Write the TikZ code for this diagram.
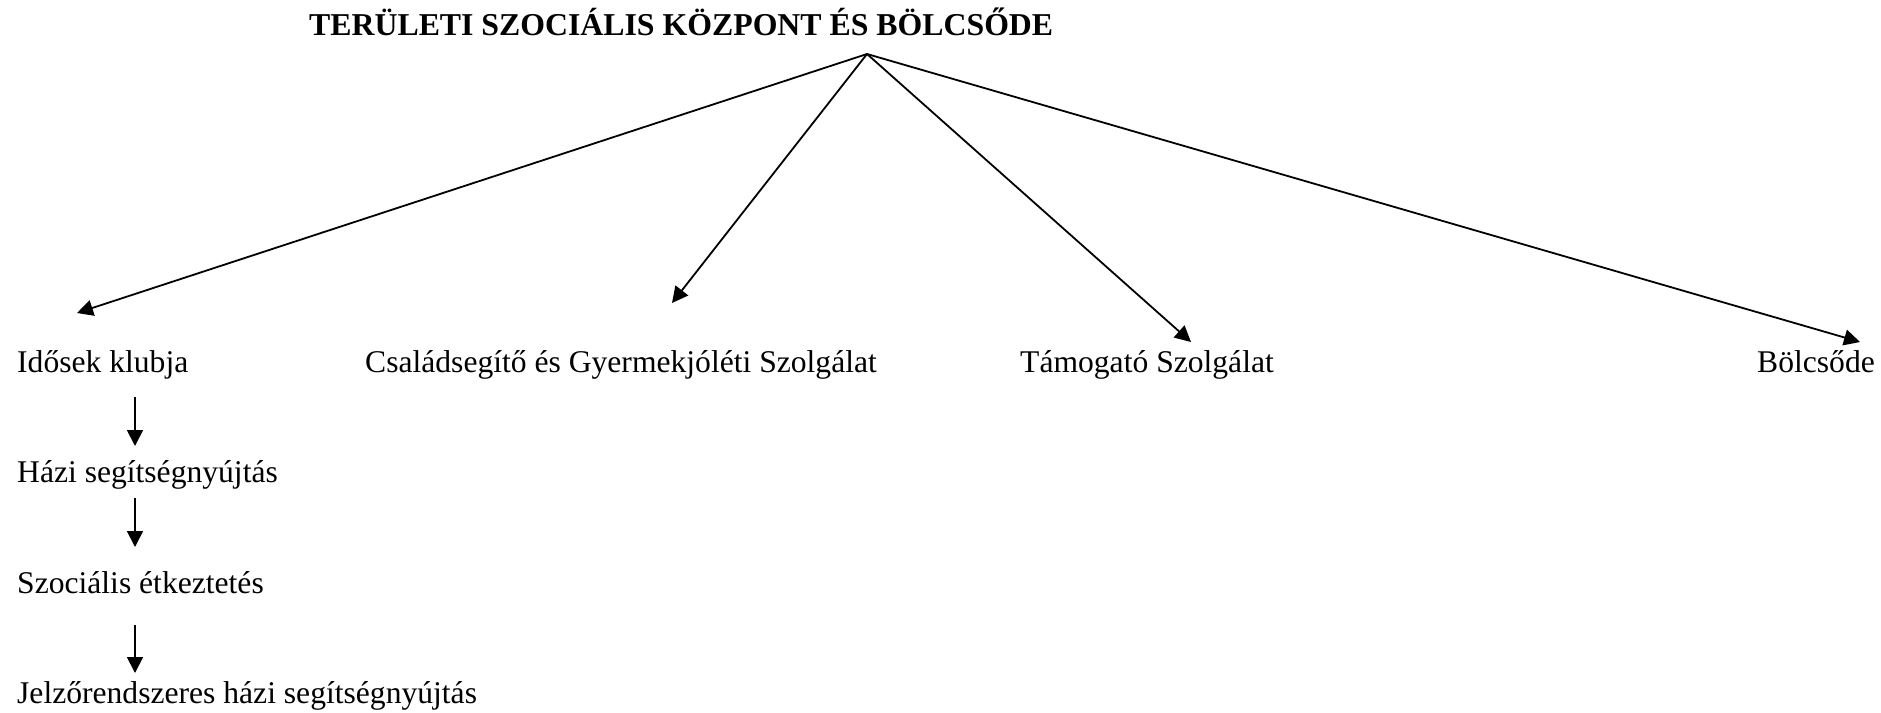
\documentclass[tikz,border=0pt]{standalone}
\usepackage{fontspec}
\setmainfont{Liberation Serif}
\usetikzlibrary{arrows.meta}
\begin{document}
\begin{tikzpicture}[x=1pt,y=-1pt,
  lbl/.style={anchor=base west,inner sep=0pt,font=\fontsize{31.6}{36}\selectfont},
  ttl/.style={anchor=base west,inner sep=0pt,font=\fontsize{31.8}{36}\selectfont\bfseries},
  conn/.style={line width=1.8pt,-{Triangle[length=16pt,width=16pt]}}]
\useasboundingbox (0,0) rectangle (1881,712);
\node[ttl] (title) at (309,35) {TERÜLETI SZOCIÁLIS KÖZPONT ÉS BÖLCSŐDE};
\coordinate (apex) at (867,54);
\node[lbl] (idos) at (17,372) {Idősek klubja};
\node[lbl] (csal) at (365,372) {Családsegítő és Gyermekjóléti Szolgálat};
\node[lbl] (tam) at (1020,372) {Támogató Szolgálat};
\node[lbl] (bol) at (1757,372) {Bölcsőde};
\node[lbl] (hazi) at (17,482) {Házi segítségnyújtás};
\node[lbl] (szoc) at (17,593) {Szociális étkeztetés};
\node[lbl] (jelz) at (17,703) {Jelzőrendszeres házi segítségnyújtás};
\coordinate (t1) at (77,313);
\coordinate (t2) at (672,303);
\coordinate (t3) at (1191,342);
\coordinate (t4) at (1860,342);
\draw[conn] (apex) -- (t1);
\draw[conn] (apex) -- (t2);
\draw[conn] (apex) -- (t3);
\draw[conn] (apex) -- (t4);
\coordinate (v1s) at (135,397); \coordinate (v1e) at (135,446);
\coordinate (v2s) at (135,498); \coordinate (v2e) at (135,547);
\coordinate (v3s) at (135,625); \coordinate (v3e) at (135,673);
\draw[conn] (v1s) -- (v1e);
\draw[conn] (v2s) -- (v2e);
\draw[conn] (v3s) -- (v3e);
\end{tikzpicture}
\end{document}
